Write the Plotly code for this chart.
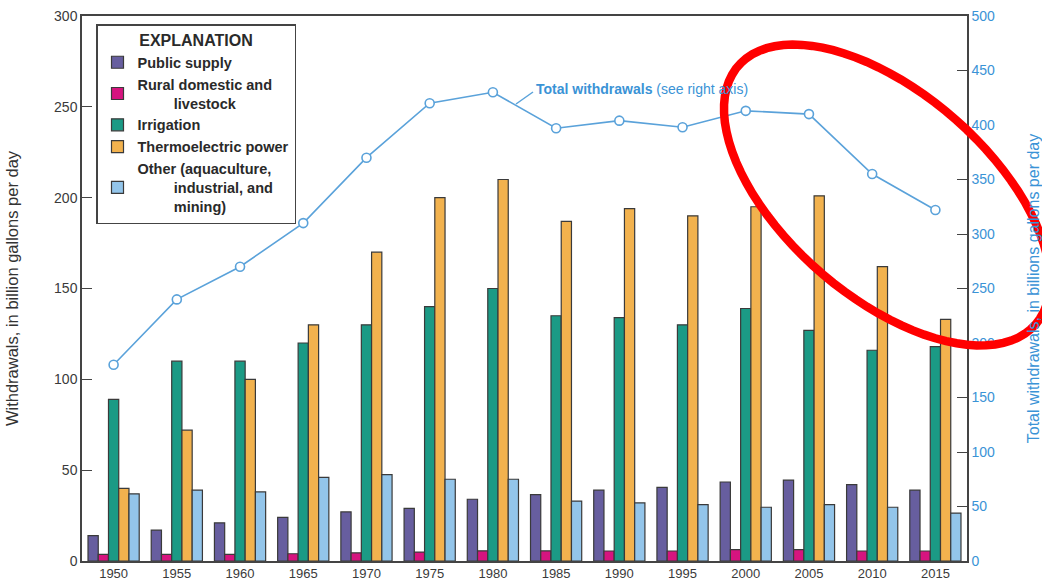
import numpy as np
import plotly.graph_objects as go

years = ["1950", "1955", "1960", "1965", "1970", "1975", "1980", "1985",
         "1990", "1995", "2000", "2005", "2010", "2015"]
public_supply = [14, 17, 21, 24, 27, 29, 34, 36.5, 39, 40.5, 43.5, 44.5, 42, 39]
rural = [3.6, 3.6, 3.6, 4.0, 4.5, 4.9, 5.6, 5.6, 5.5, 5.5, 6.3, 6.3, 5.5, 5.5]
irrigation = [89, 110, 110, 120, 130, 140, 150, 135, 134, 130, 139, 127, 116, 118]
thermo = [40, 72, 100, 130, 170, 200, 210, 187, 194, 190, 195, 201, 162, 133]
other = [37, 39, 38, 46, 47.5, 45, 45, 33, 32, 31, 29.6, 31, 29.6, 26.4]
total = [180, 240, 270, 310, 370, 420, 430, 397, 404, 398, 413, 410, 355, 322]

IND = "\u00a0" * 9
names = ["Public supply",
         "Rural domestic and<br>" + IND + "livestock",
         "Irrigation",
         "Thermoelectric power",
         "Other (aquaculture,<br>" + IND + "industrial, and<br>" + IND + "mining)"]
series = [public_supply, rural, irrigation, thermo, other]
colors = ["#675E9F", "#D6147F", "#1B9A85", "#F2B24E", "#93C5EA"]

FONT = "Liberation Sans Narrow, Arial Narrow, sans-serif"
WIDE = "Liberation Sans, Arial, sans-serif"
LINE_BLUE = "#5AA2DA"
TEXT_BLUE = "#3A93D6"

fig = go.Figure()
for nm, vals, col in zip(names, series, colors):
    fig.add_trace(go.Bar(x=years, y=vals, name=nm,
                         marker=dict(color=col, line=dict(color="#3a3a3a", width=1.2))))

fig.add_trace(go.Scatter(x=years, y=total, yaxis="y2", mode="lines+markers", showlegend=False,
                         line=dict(color=LINE_BLUE, width=1.6),
                         marker=dict(symbol="circle", size=9, color="white",
                                     line=dict(color=LINE_BLUE, width=1.6))))

# plot area geometry in pixels (for annotation placement)
L, R, T, B = 82, 967, 16, 561
def px(xp):
    return (xp - L) / (R - L)
def py(yp):
    return (B - yp) / (B - T)

# red ellipse highlight
cx, cy, a, b, th = 887, 195, 197, 102, np.deg2rad(41)
t = np.linspace(0, 2 * np.pi, 90)
ex = cx + a * np.cos(t) * np.cos(th) - b * np.sin(t) * np.sin(th)
ey = cy + a * np.cos(t) * np.sin(th) + b * np.sin(t) * np.cos(th)
path = "M " + " L ".join(f"{px(x):.4f},{py(y):.4f}" for x, y in zip(ex, ey)) + " Z"

fig.update_layout(
    width=1042, height=586,
    margin=dict(l=L, r=1042 - R, t=T, b=586 - B),
    paper_bgcolor="white", plot_bgcolor="white",
    barmode="group", bargap=0.19, bargroupgap=0,
    font=dict(family=FONT, size=13, color="#333333"),
    xaxis=dict(type="category", range=[-0.5, 13.5], showline=True, linecolor="#444444", linewidth=1.5,
               mirror=True, ticks="", showgrid=False, automargin=False,
               tickfont=dict(family=FONT, size=13, color="#3a3a3a")),
    yaxis=dict(range=[0, 300], dtick=50, showline=True, linecolor="#444444", linewidth=1.5,
               ticks="inside", ticklen=10, tickcolor="#444444", showgrid=False, zeroline=False,
               automargin=False,
               tickfont=dict(family=FONT, size=14, color="#3a3a3a"),
               title=dict(text="Withdrawals, in billion gallons per day", standoff=31,
                          font=dict(family=WIDE, size=16.5, color="#333333"))),
    yaxis2=dict(range=[0, 500], dtick=50, overlaying="y", side="right", showline=True,
                linecolor="#444444", linewidth=1.5, ticks="inside", ticklen=10, tickcolor="#444444",
                showgrid=False, zeroline=False, automargin=False,
                tickfont=dict(family=FONT, size=14, color=TEXT_BLUE),
                title=dict(text="Total withdrawals, in billions gallons per day", standoff=37,
                           font=dict(family=FONT, size=16, color=TEXT_BLUE))),
    legend=dict(x=px(96), y=py(24), xanchor="left", yanchor="top",
                bgcolor="white", bordercolor="#444444", borderwidth=1.5,
                font=dict(family=FONT, size=14.5, color="#2a2a2a", weight="bold"),
                title=dict(text="<b>EXPLANATION</b>", side="top center",
                           font=dict(family=FONT, size=16, color="#2a2a2a")),
                traceorder="normal", itemwidth=30, tracegroupgap=0),
    annotations=[dict(x=px(534), y=py(89), xref="paper", yref="paper", xanchor="left", yanchor="middle",
                      showarrow=False, text="<b>Total withdrawals</b> (see right axis)",
                      font=dict(family=FONT, size=14, color=TEXT_BLUE))],
    shapes=[dict(type="line", xref="paper", yref="paper", x0=px(533), y0=py(92), x1=px(516), y1=py(104),
                 line=dict(color=LINE_BLUE, width=1.5)),
            dict(type="path", xref="paper", yref="paper", path=path,
                 line=dict(color="#FF0000", width=8.5), fillcolor="rgba(0,0,0,0)")],
)

fig.write_html("out.html", config={"displayModeBar": False},
               post_script="document.body.style.margin='0px';document.body.style.overflow='hidden';")
